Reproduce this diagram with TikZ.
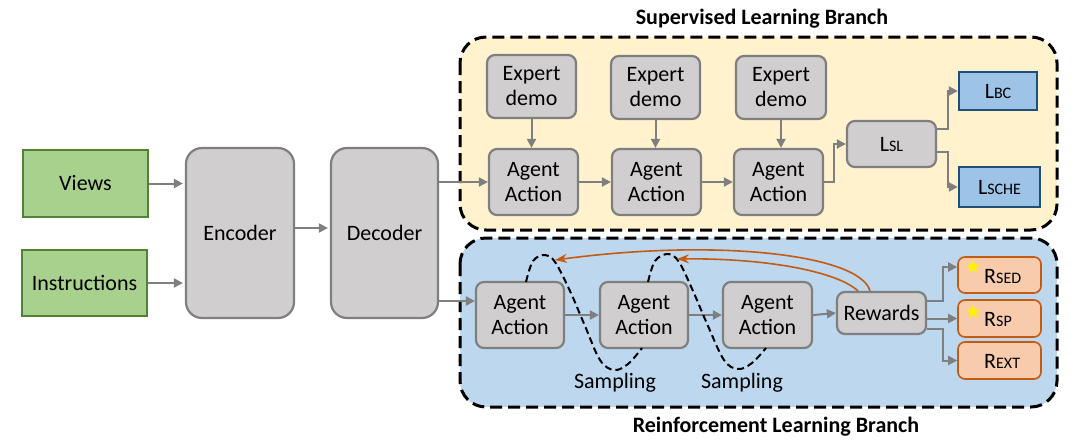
\documentclass[tikz,border=0pt]{standalone}
\usepackage{fontspec}
\setmainfont{Carlito}
\usetikzlibrary{arrows.meta,shapes.geometric,calc}
\definecolor{gfill}{HTML}{D0CECE}
\definecolor{gline}{HTML}{7F7F7F}
\definecolor{grfill}{HTML}{A9D18E}
\definecolor{grline}{HTML}{548235}
\definecolor{bfill}{HTML}{9DC3E6}
\definecolor{bline}{HTML}{1F4E79}
\definecolor{ofill}{HTML}{F8CBAD}
\definecolor{oline}{HTML}{C55A11}
\definecolor{ybg}{HTML}{FFF2CC}
\definecolor{bbg}{HTML}{BDD7EE}
\newcommand{\sm}[1]{{\fontsize{16}{16}\selectfont #1}}
\tikzset{
  txt/.style={font=\fontsize{22}{25}\selectfont, align=center, inner sep=0pt},
  graybox/.style={txt, draw=gline, fill=gfill, line width=2.2pt, rounded corners=8pt},
  bigbox/.style={txt, draw=gline, fill=gfill, line width=2.2pt, rounded corners=16pt},
  greenbox/.style={txt, draw=grline, fill=grfill, line width=2.4pt},
  bluebox/.style={txt, draw=bline, fill=bfill, line width=2.4pt},
  orangebox/.style={txt, draw=oline, fill=ofill, line width=1.6pt, rounded corners=7pt},
  branch/.style={draw=black, line width=3pt, dash pattern=on 12pt off 6pt, rounded corners=26pt},
  arr/.style={draw=gline, line width=2pt, -{Triangle[length=9pt,width=9pt]}},
  oarr/.style={draw=oline, line width=1.6pt, -{Stealth[length=12pt,width=9pt]}},
  samp/.style={draw=black, line width=2pt, dash pattern=on 7pt off 4pt},
  title/.style={font=\fontsize{22}{24}\selectfont\bfseries, inner sep=0pt},
  ystar/.style={star, star points=5, star point ratio=2.4, fill=yellow, draw=none, minimum size=15pt, inner sep=0pt}
}
\begin{document}
\begin{tikzpicture}[x=1pt,y=-1pt]
\useasboundingbox (0,0) rectangle (1076,442);
\fill[white] (0,0) rectangle (1076,442);
% branch backgrounds
\path[branch, fill=ybg] (460,37) rectangle (1057,230);
\path[branch, fill=bbg] (460,238) rectangle (1057,407);
\node[title] (tsl) at (762,19) {Supervised Learning Branch};
\node[title] (trl) at (776,427) {Reinforcement Learning Branch};
% inputs
\node[greenbox, minimum width=125pt, minimum height=67pt] (views) at (85.5,183.5) {Views};
\node[greenbox, minimum width=125pt, minimum height=66pt] (instr) at (84.5,283) {Instructions};
\node[bigbox, minimum width=108pt, minimum height=170pt] (enc) at (240,233) {Encoder};
\node[bigbox, minimum width=107pt, minimum height=170pt] (dec) at (384.5,233) {Decoder};
% supervised
\node[graybox, minimum width=89pt, minimum height=63pt] (e1) at (531.5,86.5) {Expert\\demo};
\node[graybox, minimum width=89pt, minimum height=63pt] (e2) at (655.5,87.5) {Expert\\demo};
\node[graybox, minimum width=90pt, minimum height=63pt] (e3) at (781,87.5) {Expert\\demo};
\node[graybox, minimum width=89pt, minimum height=66pt] (a1) at (533.5,182) {Agent\\Action};
\node[graybox, minimum width=89pt, minimum height=66pt] (a2) at (656.5,182) {Agent\\Action};
\node[graybox, minimum width=89pt, minimum height=66pt] (a3) at (778.5,182) {Agent\\Action};
\node[graybox, minimum width=89pt, minimum height=46pt] (lsl) at (891.5,144) {L\sm{SL}};
\node[bluebox, minimum width=78pt, minimum height=38pt] (lbc) at (998,91) {L\sm{BC}};
\node[bluebox, minimum width=81pt, minimum height=40pt] (lsche) at (999.5,187) {L\sm{SCHE}};
% reinforcement
\node[graybox, minimum width=88pt, minimum height=66pt] (r1) at (520,315) {Agent\\Action};
\node[graybox, minimum width=88pt, minimum height=66pt] (r2) at (644,315) {Agent\\Action};
\node[graybox, minimum width=89pt, minimum height=66pt] (r3) at (767.5,315) {Agent\\Action};
\node[graybox, minimum width=89pt, minimum height=42pt] (rew) at (881.5,313) {Rewards};
\node[orangebox, minimum width=83pt, minimum height=36pt] (rsed) at (999.5,275) {};
\node[orangebox, minimum width=83pt, minimum height=37pt] (rsp) at (999.5,318.5) {};
\node[orangebox, minimum width=83pt, minimum height=37pt] (rext) at (999.5,360.5) {};
\node[txt, anchor=west] (tsed) at (984,276) {R\sm{SED}};
\node[txt, anchor=west] (tsp) at (984,319.5) {R\sm{SP}};
\node[txt, anchor=west] (text) at (984,361.5) {R\sm{EXT}};
\node[ystar] (s1) at (973,267) {};
\node[ystar] (s2) at (973,312) {};
% left arrows
\draw[arr, shorten >=2pt] (views.east) -- (views.east -| enc.west);
\draw[arr, shorten >=2pt] (instr.east) -- (instr.east -| enc.west);
\coordinate (emid) at ($(enc.east)+(0,-5)$);
\draw[arr, shorten >=2pt] (emid) -- (emid -| dec.west);
\draw[arr] (dec.east |- a1.west) -- (a1.west);
\coordinate (dlow) at ($(dec.east)+(0,68)$);
\draw[arr] (dlow) -- (dlow -| r1.west);
% supervised arrows
\foreach \e/\a in {e1/a1,e2/a2,e3/a3}{
  \draw[arr] (\e.south) -- (\e.south |- \a.north);
}
\draw[arr] (a1.east) -- (a2.west);
\draw[arr] (a2.east) -- (a3.west);
\draw[arr] (a3.east) -- ++(10,0) |- (lsl.west);
\draw[arr] ($(lsl.east)+(0,-15)$) -- ++(11,0) |- (lbc.west);
\draw[arr] ($(lsl.east)+(0,8)$) -- ++(11,0) |- (lsche.west);
% reinforcement arrows
\draw[arr] (r1.east) -- (r2.west);
\draw[arr] (r2.east) -- (r3.west);
\draw[arr] (r3.east) -- (rew.west);
\draw[arr] ($(rew.east)+(0,-12)$) -- ++(16,0) |- ($(rsed.west)+(0,-8)$);
\draw[arr] (rew.east |- rsp.west) -- (rsp.west);
\draw[arr] ($(rew.east)+(0,16)$) -- ++(16,0) |- (rext.west);
% sampling curves
\draw[samp] plot[smooth, tension=0.6] coordinates {(526,282) (533,261) (545,255) (555,262) (570,291) (585,326) (600,360) (614,370) (628,364) (642,348)};
\draw[samp] plot[smooth, tension=0.6] coordinates {(648,282) (655,261) (668,254) (679,262) (693,291) (708,326) (724,360) (738,369) (752,363) (766,348)};
\node[txt] (smp1) at (615,383) {Sampling};
\node[txt] (smp2) at (742,383) {Sampling};
% reward feedback
\draw[oarr] ($(rew.north)+(-11.5,0)$) .. controls (860,255) and (720,238) .. (555,260);
\draw[oarr] ($(rew.north)+(-23.5,0)$) .. controls (835,270) and (760,258) .. (677,259);
\end{tikzpicture}
\end{document}
